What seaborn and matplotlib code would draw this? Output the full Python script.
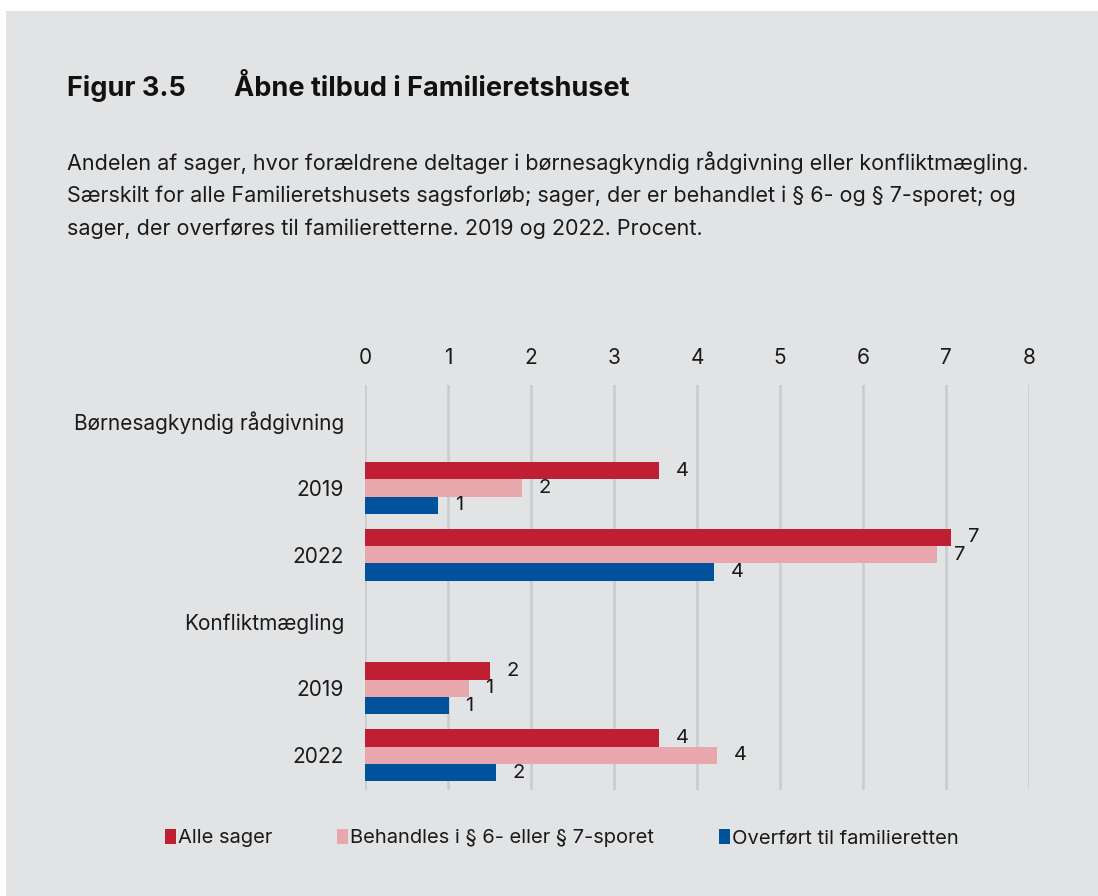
import numpy as np
import pandas as pd
import matplotlib.pyplot as plt
import matplotlib.patches as mpatches
import seaborn as sns

# data
keys = ['b_head', 'b_2019', 'b_2022', 'k_head', 'k_2019', 'k_2022']
tick_labels = ['Børnesagkyndig rådgivning', '2019', '2022', 'Konfliktmægling', '2019', '2022']
series = ['Alle sager', 'Behandles i § 6- eller § 7-sporet', 'Overført til familieretten']
alle = [np.nan, 3.54, 7.06, np.nan, 1.51, 3.54]
behandles = [np.nan, 1.89, 6.89, np.nan, 1.25, 4.24]
overfort = [np.nan, 0.88, 4.21, np.nan, 1.01, 1.58]
colors = ['#C01F33', '#E8A7AD', '#00529C']

bg = '#E2E3E5'

rows = []
for s, vals in zip(series, [alle, behandles, overfort]):
    for k, v in zip(keys, vals):
        rows.append({'key': k, 'serie': s, 'value': v})
df = pd.DataFrame(rows)

sns.set_style('white')
plt.rcParams['font.family'] = ['Inter', 'DejaVu Sans']

fig = plt.figure(figsize=(10.98, 8.96), dpi=100, facecolor='white')
fig.patches.append(mpatches.Rectangle((6 / 1098, 0), 1, 1 - 11 / 896,
                                      transform=fig.transFigure, facecolor=bg,
                                      edgecolor='none', zorder=-10))

ax = fig.add_axes([365 / 1098, 1 - 790 / 896, (1029 - 365) / 1098, (790 - 385) / 896])
ax.set_facecolor(bg)

sns.barplot(data=df, y='key', x='value', hue='serie', order=keys, hue_order=series,
            palette=colors, orient='h', width=0.78, ax=ax, saturation=1, legend=False,
            linewidth=0)

for cont in ax.containers:
    labs = []
    for v in cont.datavalues:
        labs.append('' if np.isnan(v) else f'{v:.0f}')
    ax.bar_label(cont, labels=labs, padding=12, fontsize=14.5, color='#1a1a1a')

ax.set_xlim(0, 8)
ax.set_ylim(5.52, -0.54)
ax.set_xticks(range(0, 9))
ax.xaxis.tick_top()
ax.tick_params(axis='x', length=0, labelsize=15, pad=12, colors='#1a1a1a')
ax.tick_params(axis='y', length=0, labelsize=15, pad=15, colors='#1a1a1a')
ax.set_yticks(range(len(keys)))
ax.set_yticklabels(tick_labels)
ax.set_xlabel('')
ax.set_ylabel('')
ax.grid(axis='x', color='#C9CACC', linewidth=1.8)
ax.set_axisbelow(True)
for sp in ax.spines.values():
    sp.set_visible(False)

fig.text(67 / 1098, 1 - 88 / 896, 'Figur 3.5', fontsize=19.5, fontweight='bold',
         va='center', ha='left', color='#111111')
fig.text(234 / 1098, 1 - 88 / 896, 'Åbne tilbud i Familieretshuset', fontsize=19.5,
         fontweight='bold', va='center', ha='left', color='#111111')

sub = ['Andelen af sager, hvor forældrene deltager i børnesagkyndig rådgivning eller konfliktmægling.',
       'Særskilt for alle Familieretshusets sagsforløb; sager, der er behandlet i § 6- og § 7-sporet; og',
       'sager, der overføres til familieretterne. 2019 og 2022. Procent.']
for i, line in enumerate(sub):
    fig.text(67 / 1098, 1 - (163 + i * 33) / 896, line, fontsize=15.5, va='center',
             ha='left', color='#1a1a1a')

handles = [mpatches.Patch(facecolor=c, edgecolor='none') for c in colors]
fig.legend(handles, series, loc='center', bbox_to_anchor=(562 / 1098, 1 - 838 / 896),
           ncol=3, frameon=False, fontsize=14.5, handlelength=0.55, handleheight=0.8,
           handletextpad=0.1, columnspacing=3.2, labelcolor='#1a1a1a')

fig.savefig('out.png', dpi=100, facecolor='white')
